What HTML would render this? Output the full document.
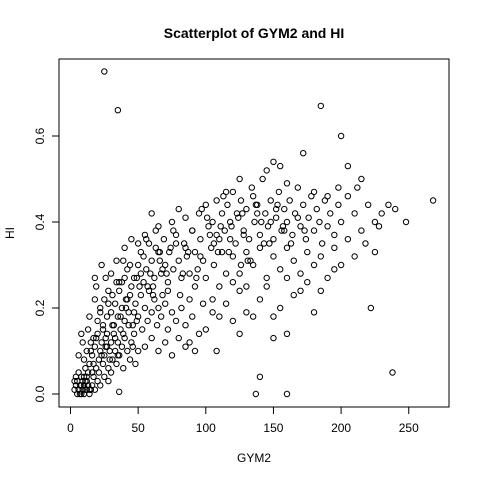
<!DOCTYPE html>
<html><head><meta charset="utf-8"><style>
body{margin:0;background:#fff}
svg{display:block;font-family:"Liberation Sans",sans-serif}
</style></head><body>
<svg id="chart" width="480" height="480" viewBox="0 0 480 480">
<rect width="480" height="480" fill="#fff"/>
<text x="254" y="38" text-anchor="middle" font-size="14" font-weight="bold">Scatterplot of GYM2 and HI</text>
<rect x="59" y="59" width="390" height="348" fill="none" stroke="#000" stroke-width="1"/>
<g id="xaxis"></g>
<g id="yaxis"></g>
<text x="254" y="462" text-anchor="middle" font-size="12">GYM2</text>
<text transform="translate(14,233) rotate(-90)" text-anchor="middle" font-size="12">HI</text>
<g id="points"></g>
</svg>
<script>
const xTicks=[0,50,100,150,200,250];
const yTicks=[0.0,0.2,0.4,0.6];
const yTickLabels=["0.0","0.2","0.4","0.6"];
const gym=[3,4,5,5,6,7,8,8,9,10,11,12,13,14,15,4,6,9,12,16,18,20,22,25,28,30,3,7,11,17,36,
10,12,14,15,16,18,19,20,21,22,23,24,25,26,27,28,29,30,31,32,33,34,35,36,37,38,39,40,42,44,45,47,48,50,8,9,13,17,11,6,
20,22,24,25,27,28,30,32,33,35,36,38,40,41,43,45,46,48,50,52,53,55,57,58,60,62,64,65,67,70,72,75,78,80,82,85,88,90,95,100,105,60,55,65,70,75,85,92,98,26,18,40,
30,34,38,40,42,45,47,50,52,54,56,58,60,62,63,65,67,69,70,72,74,76,78,80,82,84,86,88,90,92,94,96,98,100,102,104,106,108,110,112,115,118,60,65,75,80,55,50,85,95,100,68,72,88,92,105,110,115,120,125,130,120,126,
105,108,110,112,114,116,118,120,122,124,126,128,130,132,134,136,138,140,142,144,146,148,150,152,154,156,158,160,162,164,166,168,170,172,174,176,178,180,182,184,186,188,190,192,195,198,200,205,210,215,220,225,230,235,240,228,218,212,
120,125,130,135,140,145,150,155,160,165,170,175,180,185,190,195,200,205,210,140,145,155,165,175,135,125,130,150,160,170,195,
115,125,135,145,160,180,190,198,
25,35,185,200,268,238,140,137,160,108,150,160,185,180,222,215,205,172,150,155,248,225,
13,15,17,19,21,23,24,26,29,31,33,35,37,39,41,43,46,49,14,18,22,27,31,36,42,47,52,57,61,66,19,23,28,34,39,44,49,54,59,63,68,73,78,83,44,51,56,61,66,71,76,81,87,93,
85,90,96,101,106,111,117,123,128,133,138,143,148,153,158,163,168,173,97,103,109,113,119,127,131,137,141,147,152,157,
8,10,12,14,16,10,13];
const hi=[0.01,0.02,0.00,0.03,0.01,0.02,0.00,0.04,0.01,0.02,0.03,0.01,0.02,0.00,0.01,0.04,0.05,0.03,0.04,0.02,0.01,0.03,0.02,0.04,0.03,0.05,0.03,0.00,0.01,0.04,0.005,
0.08,0.10,0.07,0.12,0.09,0.11,0.06,0.14,0.08,0.10,0.12,0.07,0.09,0.13,0.11,0.06,0.10,0.12,0.08,0.14,0.10,0.07,0.12,0.09,0.15,0.11,0.06,0.13,0.10,0.08,0.12,0.14,0.07,0.10,0.14,0.12,0.15,0.13,0.06,0.09,
0.17,0.20,0.16,0.22,0.18,0.24,0.19,0.16,0.21,0.18,0.24,0.20,0.17,0.22,0.19,0.25,0.16,0.21,0.18,0.23,0.15,0.20,0.17,0.24,0.19,0.22,0.16,0.20,0.18,0.21,0.15,0.19,0.17,0.13,0.20,0.16,0.12,0.18,0.14,0.15,0.19,0.13,0.11,0.10,0.12,0.09,0.11,0.10,0.21,0.27,0.27,0.27,
0.28,0.31,0.26,0.34,0.29,0.36,0.27,0.30,0.33,0.26,0.29,0.35,0.31,0.27,0.38,0.33,0.28,0.36,0.30,0.26,0.34,0.29,0.37,0.31,0.27,0.35,0.32,0.28,0.38,0.33,0.29,0.36,0.31,0.27,0.39,0.34,0.30,0.37,0.25,0.33,0.28,0.36,0.42,0.39,0.40,0.43,0.37,0.35,0.41,0.42,0.44,0.23,0.24,0.22,0.25,0.22,0.18,0.21,0.17,0.24,0.19,0.26,0.30,
0.40,0.45,0.36,0.42,0.38,0.44,0.40,0.47,0.35,0.41,0.45,0.38,0.43,0.36,0.48,0.40,0.44,0.37,0.50,0.42,0.39,0.45,0.36,0.41,0.47,0.38,0.43,0.40,0.45,0.37,0.42,0.48,0.39,0.44,0.36,0.41,0.46,0.38,0.43,0.40,0.35,0.45,0.39,0.42,0.37,0.44,0.40,0.46,0.42,0.38,0.44,0.40,0.42,0.44,0.43,0.39,0.35,0.48,
0.32,0.28,0.33,0.30,0.34,0.27,0.32,0.29,0.34,0.31,0.28,0.33,0.30,0.32,0.27,0.34,0.30,0.36,0.32,0.22,0.25,0.20,0.23,0.26,0.18,0.14,0.25,0.18,0.27,0.24,0.29,
0.47,0.50,0.46,0.52,0.49,0.47,0.46,0.48,
0.75,0.66,0.67,0.60,0.45,0.05,0.04,0.00,0.00,0.10,0.13,0.14,0.24,0.19,0.20,0.50,0.53,0.56,0.54,0.53,0.40,0.33,
0.05,0.10,0.07,0.13,0.05,0.09,0.15,0.11,0.08,0.16,0.13,0.09,0.18,0.14,0.20,0.16,0.11,0.17,0.18,0.22,0.19,0.14,0.23,0.26,0.22,0.19,0.28,0.25,0.23,0.31,0.25,0.30,0.21,0.26,0.31,0.23,0.27,0.32,0.28,0.34,0.29,0.33,0.35,0.28,0.30,0.25,0.36,0.25,0.33,0.28,0.38,0.23,0.33,0.27,
0.34,0.38,0.32,0.41,0.35,0.39,0.33,0.42,0.37,0.31,0.42,0.35,0.40,0.44,0.38,0.35,0.41,0.38,0.43,0.37,0.33,0.46,0.39,0.42,0.31,0.44,0.40,0.35,0.43,0.39,
0.02,0.04,0.03,0.01,0.05,0.00,0.02];
const NS="http://www.w3.org/2000/svg";
const xs=v=>70.5+v*1.353;
const ys=v=>394-v*430;
const xa=document.getElementById('xaxis'),ya=document.getElementById('yaxis'),pg=document.getElementById('points');
function mk(t,a){const e=document.createElementNS(NS,t);for(const k in a)e.setAttribute(k,a[k]);return e;}
let l=mk('line',{x1:xs(xTicks[0]),x2:xs(xTicks[xTicks.length-1]),y1:407,y2:407,stroke:'#000'});


xa.appendChild(l);
xTicks.forEach(v=>{
 const t=mk('line',{x1:xs(v),x2:xs(v),y1:407,y2:414,stroke:'#000'});
 
 
 xa.appendChild(t);
 const tx=mk('text',{x:xs(v),y:432,'text-anchor':'middle','font-size':12});
 
 
 tx.textContent=v;xa.appendChild(tx);
});
l=mk('line',{x1:59,x2:59,y1:ys(yTicks[0]),y2:ys(yTicks[yTicks.length-1]),stroke:'#000'});


ya.appendChild(l);
yTicks.forEach((v,i)=>{
 const t=mk('line',{x1:52,x2:59,y1:ys(v),y2:ys(v),stroke:'#000'});
 
 
 ya.appendChild(t);
 const tx=mk('text',{transform:`translate(44,${ys(v)}) rotate(-90)`,'text-anchor':'middle','font-size':12});
 
 
 tx.textContent=yTickLabels[i];ya.appendChild(tx);
});
gym.forEach((g,i)=>{
 const c=mk('circle',{cx:xs(g),cy:ys(hi[i]),r:2.7,fill:'none',stroke:'#000','stroke-width':1});
 
 
 pg.appendChild(c);
});
</script>
</body></html>
